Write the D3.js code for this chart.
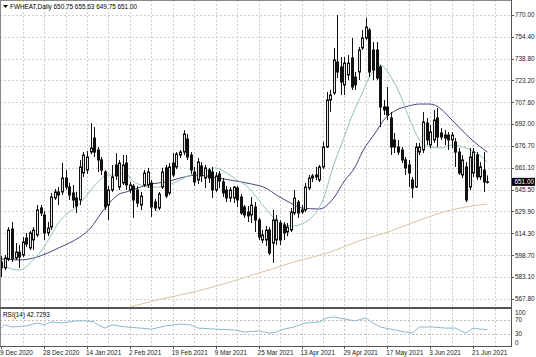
<!DOCTYPE html>
<html><head><meta charset="utf-8">
<script src="https://cdn.jsdelivr.net/npm/d3@7/dist/d3.min.js"></script>
<style>
html,body{margin:0;padding:0;background:#fff;}
svg{display:block;}
text{font-family:"Liberation Sans Narrow","Liberation Sans",Arial,sans-serif;white-space:pre;}
</style></head><body>
<svg id="c" width="536" height="357"></svg>
<script>
// ---------- DATA ----------
const symbol = "FWHEAT,Daily";
const headerValues = ["650.75", "655.63", "649.75", "651.00"];
const dates = [
"2020-12-09","2020-12-10","2020-12-11","2020-12-14","2020-12-15","2020-12-16","2020-12-17","2020-12-18","2020-12-21","2020-12-22","2020-12-23","2020-12-24","2020-12-28","2020-12-29","2020-12-30","2020-12-31",
"2021-01-04","2021-01-05","2021-01-06","2021-01-07","2021-01-08","2021-01-11","2021-01-12","2021-01-13","2021-01-14","2021-01-15","2021-01-19","2021-01-20","2021-01-21","2021-01-22","2021-01-25","2021-01-26","2021-01-27","2021-01-28","2021-01-29",
"2021-02-01","2021-02-02","2021-02-03","2021-02-04","2021-02-05","2021-02-08","2021-02-09","2021-02-10","2021-02-11","2021-02-12","2021-02-16","2021-02-17","2021-02-18","2021-02-19","2021-02-22","2021-02-23","2021-02-24","2021-02-25","2021-02-26",
"2021-03-01","2021-03-02","2021-03-03","2021-03-04","2021-03-05","2021-03-08","2021-03-09","2021-03-10","2021-03-11","2021-03-12","2021-03-15","2021-03-16","2021-03-17","2021-03-18","2021-03-19","2021-03-22","2021-03-23","2021-03-24","2021-03-25","2021-03-26","2021-03-29","2021-03-30","2021-03-31",
"2021-04-01","2021-04-05","2021-04-06","2021-04-07","2021-04-08","2021-04-09","2021-04-12","2021-04-13","2021-04-14","2021-04-15","2021-04-16","2021-04-19","2021-04-20","2021-04-21","2021-04-22","2021-04-23","2021-04-26","2021-04-27","2021-04-28","2021-04-29","2021-04-30",
"2021-05-03","2021-05-04","2021-05-05","2021-05-06","2021-05-07","2021-05-10","2021-05-11","2021-05-12","2021-05-13","2021-05-14","2021-05-17","2021-05-18","2021-05-19","2021-05-20","2021-05-21","2021-05-24","2021-05-25","2021-05-26","2021-05-27","2021-05-28",
"2021-06-01","2021-06-02","2021-06-03","2021-06-04","2021-06-07","2021-06-08","2021-06-09","2021-06-10","2021-06-11","2021-06-14","2021-06-15","2021-06-16","2021-06-17","2021-06-18","2021-06-21","2021-06-22","2021-06-23","2021-06-24","2021-06-25"
];
const openP = [593.9,589.7,596.1,617.4,596.8,601.0,598.9,611.0,603.9,609.6,613.2,632.4,627.4,614.6,618.8,639.5,643.8,643.8,653.7,647.3,643.1,639.5,638.1,657.3,659.4,672.2,682.2,673.7,666.6,658.0,634.5,645.2,663.0,647.3,650.2,664.4,645.2,648.0,645.2,634.5,648.8,648.8,650.2,636.6,632.4,647.3,660.9,643.1,664.4,661.6,670.1,672.2,681.5,670.1,658.0,652.3,662.3,653.7,659.4,658.0,645.2,656.6,650.9,645.2,639.5,639.5,646.6,640.2,633.1,629.5,627.4,633.1,623.8,609.6,609.6,616.7,607.4,609.6,621.7,620.3,615.3,616.7,628.8,636.6,631.0,631.0,646.6,653.7,655.9,652.3,661.6,675.8,709.3,714.3,736.3,732.8,720.0,727.1,739.2,725.6,729.2,746.3,753.4,759.1,744.9,744.9,732.8,704.3,704.3,696.5,680.8,675.8,673.7,666.6,663.0,652.3,647.3,672.2,673.7,692.9,677.2,680.8,696.5,685.8,684.3,684.3,680.8,679.4,672.2,655.9,661.6,647.3,657.3,670.1,654.5,659.4,650.75];
const highP = [598.2,598.9,618.8,622.4,607.4,606.0,611.7,614.6,616.0,618.8,634.5,634.5,630.2,622.4,643.1,645.9,647.3,664.4,659.4,650.2,648.8,643.8,666.6,672.2,673.0,692.9,690.0,675.8,668.7,659.4,648.0,663.0,671.5,666.6,670.1,670.1,650.9,649.5,648.0,643.8,659.4,660.9,652.3,638.8,643.8,660.9,663.0,664.4,671.5,672.2,673.7,687.9,685.1,672.2,661.6,668.0,665.1,663.0,660.9,661.6,658.0,658.7,653.7,648.0,647.3,648.0,648.0,642.3,634.5,633.8,640.2,636.6,625.3,616.7,619.6,618.8,631.0,627.4,623.8,622.4,621.7,632.4,645.2,638.1,634.5,650.2,655.9,656.6,661.6,663.0,679.4,715.0,716.4,746.3,769.8,739.9,739.9,741.3,753.4,729.2,747.0,759.1,767.7,760.5,750.6,750.6,734.2,709.3,718.5,700.7,685.8,680.8,675.8,668.7,666.6,654.5,678.7,678.7,700.7,696.5,691.5,702.2,703.6,689.3,687.9,686.5,686.5,682.2,675.1,670.1,665.1,675.1,675.1,672.2,665.1,672.2,655.63];
const lowP = [583.2,588.2,594.6,593.9,595.4,589.7,597.5,604.6,602.5,602.5,611.7,626.7,609.6,612.4,616.7,638.1,634.5,641.6,645.2,638.1,632.4,628.8,634.5,654.5,656.6,670.8,668.7,658.0,655.9,631.0,623.8,643.8,652.3,645.2,648.8,645.2,643.1,625.3,633.1,631.0,647.3,646.6,626.0,630.2,631.0,645.9,639.5,641.6,654.5,660.1,668.0,670.1,666.6,656.6,648.0,649.5,650.9,646.6,650.2,639.5,643.8,646.6,640.2,636.6,636.6,635.9,633.1,627.4,625.3,622.4,621.7,615.3,609.6,607.4,605.3,598.9,593.3,606.0,606.0,609.6,612.4,615.3,627.4,625.3,628.1,629.5,645.2,650.9,652.3,650.9,660.1,675.1,700.7,712.8,724.9,712.8,712.8,723.5,716.4,716.4,723.5,744.9,752.0,725.6,723.5,723.5,690.0,698.6,695.0,670.1,671.5,670.1,664.4,655.9,647.3,639.5,646.6,670.1,671.5,677.2,675.1,678.7,675.8,680.8,677.2,673.7,675.1,661.6,655.9,653.7,636.6,645.2,654.5,652.3,652.3,643.8,649.75];
const closeP = [589.7,596.8,616.7,596.1,601.0,597.5,608.2,606.7,614.6,616.7,631.0,628.8,614.6,618.1,640.2,643.8,641.6,653.7,647.3,641.6,638.1,633.8,661.6,670.1,668.7,675.1,672.2,666.6,659.4,633.1,645.2,654.5,655.2,664.4,663.0,648.8,648.8,638.1,635.9,640.9,657.3,658.0,633.1,632.4,642.3,658.0,640.9,661.6,655.9,670.8,672.2,685.1,668.7,659.4,650.9,665.1,655.2,660.9,653.7,645.2,655.2,651.6,643.1,639.5,645.2,647.3,638.1,628.8,627.4,626.7,634.5,623.8,611.7,613.2,616.7,600.3,623.8,623.8,609.6,614.6,618.8,629.5,639.5,628.8,629.5,647.3,653.7,655.2,654.5,661.6,675.8,709.3,712.8,737.8,729.2,722.1,735.6,735.6,718.5,720.0,744.9,753.4,761.2,729.2,730.6,724.9,704.3,702.2,698.6,675.8,675.8,672.2,666.6,660.9,657.3,646.6,675.8,675.8,693.6,680.8,686.5,695.0,682.9,682.9,682.2,680.8,684.3,672.2,657.3,666.6,638.1,668.7,672.2,654.5,661.6,650.9,651.00];

// moving averages: [date, value]
const maFast = [["2020-12-09",591.8],["2020-12-16",588.2],["2020-12-22",595.4],["2020-12-28",604.6],["2020-12-30",613.2],["2021-01-04",621.7],["2021-01-06",627.4],["2021-01-11",633.1],["2021-01-14",641.6],["2021-01-20",650.9],["2021-01-25",655.9],["2021-01-27",655.9],["2021-02-01",657.3],["2021-02-02",653.7],["2021-02-05",648.8],["2021-02-10",647.3],["2021-02-12",647.3],["2021-02-18",648.8],["2021-02-23",652.3],["2021-02-26",655.9],["2021-03-03",657.3],["2021-03-05",659.4],["2021-03-09",660.9],["2021-03-12",657.3],["2021-03-17",652.3],["2021-03-22",647.3],["2021-03-25",638.1],["2021-03-30",628.8],["2021-04-05",621.7],["2021-04-09",619.6],["2021-04-13",621.0],["2021-04-16",626.0],["2021-04-21",638.1],["2021-04-26",663.0],["2021-04-28",676.5],["2021-05-03",697.2],["2021-05-06",714.3],["2021-05-10",725.6],["2021-05-12",732.1],["2021-05-13",734.2],["2021-05-18",725.6],["2021-05-20",716.4],["2021-05-25",697.2],["2021-05-28",680.8],["2021-06-03",675.8],["2021-06-08",675.1],["2021-06-11",677.2],["2021-06-17",675.1],["2021-06-22",671.5],["2021-06-25",665.1]];
const maSlow = [["2020-12-09",596.1],["2020-12-16",595.4],["2020-12-22",596.8],["2020-12-29",600.3],["2021-01-04",603.9],["2021-01-07",607.4],["2021-01-12",611.7],["2021-01-15",618.1],["2021-01-21",628.8],["2021-01-25",635.2],["2021-01-28",642.3],["2021-02-01",643.8],["2021-02-05",647.3],["2021-02-10",649.5],["2021-02-17",650.9],["2021-02-23",653.7],["2021-03-02",655.9],["2021-03-08",654.5],["2021-03-15",652.3],["2021-03-23",649.5],["2021-03-29",646.6],["2021-04-01",641.6],["2021-04-08",635.9],["2021-04-13",632.4],["2021-04-20",631.7],["2021-04-26",639.5],["2021-04-29",651.6],["2021-05-04",661.6],["2021-05-06",672.2],["2021-05-12",687.2],["2021-05-14",695.0],["2021-05-19",701.4],["2021-05-25",705.0],["2021-05-28",706.4],["2021-06-03",706.4],["2021-06-08",702.9],["2021-06-10",697.9],["2021-06-15",690.0],["2021-06-21",680.1],["2021-06-25",672.2]];
const ma200 = [["2021-02-02",561.9],["2021-02-12",567.1],["2021-03-02",573.3],["2021-03-15",579.7],["2021-03-26",586.8],["2021-04-09",594.0],["2021-04-23",601.0],["2021-05-05",608.9],["2021-05-18",616.0],["2021-05-28",623.8],["2021-06-11",631.0],["2021-06-25",635.2]];
const rsiValues = [["2020-12-09",47],["2020-12-10",56],["2020-12-14",50],["2020-12-18",53],["2020-12-23",61],["2020-12-28",56],["2020-12-30",64],["2021-01-05",61],["2021-01-11",67],["2021-01-14",67],["2021-01-19",64],["2021-01-20",56],["2021-01-22",47],["2021-01-26",56],["2021-02-01",50],["2021-02-05",47],["2021-02-10",44],["2021-02-17",53],["2021-02-23",58],["2021-02-26",56],["2021-03-02",47],["2021-03-09",44],["2021-03-16",42],["2021-03-19",36],["2021-03-25",39],["2021-03-30",33],["2021-04-01",36],["2021-04-06",44],["2021-04-09",50],["2021-04-14",61],["2021-04-20",64],["2021-04-22",75],["2021-04-26",78],["2021-04-29",72],["2021-05-04",67],["2021-05-07",75],["2021-05-11",61],["2021-05-13",50],["2021-05-18",44],["2021-05-24",36],["2021-05-26",33],["2021-05-28",50],["2021-06-02",50],["2021-06-04",50],["2021-06-09",47],["2021-06-14",47],["2021-06-17",33],["2021-06-21",47],["2021-06-23",44],["2021-06-25",42.7293]];
const rsiLabel = "RSI(14) 42.7293";
const priceTicks = [770.00, 754.40, 738.80, 723.20, 707.60, 692.00, 676.70, 661.10, 645.50, 629.90, 614.30, 598.70, 583.10, 567.80];
const rsiTicks = [100, 70, 30, 0];
const rsiLevels = [70, 30];
const dateTicks = [["2020-12-09","9 Dec 2020"],["2020-12-28","28 Dec 2020"],["2021-01-14","14 Jan 2021"],["2021-02-02","2 Feb 2021"],["2021-02-19","19 Feb 2021"],["2021-03-09","9 Mar 2021"],["2021-03-25","25 Mar 2021"],["2021-04-13","13 Apr 2021"],["2021-04-29","29 Apr 2021"],["2021-05-17","17 May 2021"],["2021-06-03","3 Jun 2021"],["2021-06-21","21 Jun 2021"]];
const lastPrice = 651.00;

// ---------- LAYOUT ----------
const svg = d3.select("#c");
const PR = 511, MT = 0, MB = 307, RT = 309, RB = 346;
const step = 3.575;
const idx = new Map(dates.map((d, i) => [d, i]));
const xi = d3.scaleLinear().domain([0, dates.length - 1]).range([1.2, 1.2 + step * (dates.length - 1)]);
const xd = d => xi(idx.get(d));
const y = d3.scaleLinear().domain([561.9, 780.47]).range([MB, MT]);
const yr = d3.scaleLinear().domain([0, 100]).range([RB - 1, RT]);
const FS = 6.4;

svg.append("rect").attr("width", 536).attr("height", 357).attr("fill", "#fff");

const defs = svg.append("defs");
defs.append("clipPath").attr("id", "cm").append("rect").attr("x", 0).attr("y", MT).attr("width", PR).attr("height", MB - MT);
defs.append("clipPath").attr("id", "cr").append("rect").attr("x", 0).attr("y", RT).attr("width", PR).attr("height", RB - RT);

// grid
const gridC = "#cfcfcf";
const g = svg.append("g");
const vIdx = d3.range(6, 144, 6).filter(i => xi(i) < PR - 2);
g.selectAll("line.vg").data(vIdx).join("line")
  .attr("x1", i => Math.round(xi(i)) + 0.5).attr("x2", i => Math.round(xi(i)) + 0.5)
  .attr("y1", MT).attr("y2", MB).attr("stroke", gridC).attr("stroke-dasharray", "2,2");
g.selectAll("line.vr").data(vIdx).join("line")
  .attr("x1", i => Math.round(xi(i)) + 0.5).attr("x2", i => Math.round(xi(i)) + 0.5)
  .attr("y1", RT).attr("y2", RB).attr("stroke", gridC).attr("stroke-dasharray", "2,2");
g.selectAll("line.hg").data(priceTicks).join("line")
  .attr("x1", 0).attr("x2", PR)
  .attr("y1", d => Math.round(y(d)) + 0.5).attr("y2", d => Math.round(y(d)) + 0.5)
  .attr("stroke", gridC).attr("stroke-dasharray", "2,2");
g.selectAll("line.rl").data(rsiLevels).join("line")
  .attr("x1", 0).attr("x2", PR)
  .attr("y1", d => Math.round(yr(d)) + 0.5).attr("y2", d => Math.round(yr(d)) + 0.5)
  .attr("stroke", "#bdbdbd").attr("stroke-dasharray", "2,2");

// moving averages
const main = svg.append("g").attr("clip-path", "url(#cm)");
const lineGen = d3.line().x(d => xd(d[0])).y(d => y(d[1])).curve(d3.curveMonotoneX);
main.append("path").datum(ma200).attr("d", lineGen).attr("fill", "none").attr("stroke", "#d8c5a2").attr("stroke-width", 1);
main.append("path").datum(maSlow).attr("d", lineGen).attr("fill", "none").attr("stroke", "#45457a").attr("stroke-width", 1);
main.append("path").datum(maFast).attr("d", lineGen).attr("fill", "none").attr("stroke", "#92c3b8").attr("stroke-width", 1);

// candles
const candles = dates.map((d, i) => ({d, o: openP[i], h: highP[i], l: lowP[i], c: closeP[i]}));
const cg = main.append("g");
cg.selectAll("line.w").data(candles).join("line")
  .attr("x1", d => Math.round(xd(d.d)) + 0.5).attr("x2", d => Math.round(xd(d.d)) + 0.5)
  .attr("y1", d => y(d.h)).attr("y2", d => y(d.l))
  .attr("stroke", "#111").attr("stroke-width", 1);
cg.selectAll("rect.b").data(candles).join("rect")
  .attr("x", d => Math.round(xd(d.d)) - 0.5)
  .attr("width", 2)
  .attr("y", d => y(Math.max(d.o, d.c)))
  .attr("height", d => Math.max(0.6, Math.abs(y(d.o) - y(d.c))))
  .attr("fill", d => d.c >= d.o ? "#e6e6e6" : "#111")
  .attr("stroke", "#111").attr("stroke-width", 1);

// RSI
const rsiG = svg.append("g").attr("clip-path", "url(#cr)");
rsiG.append("path").datum(rsiValues)
  .attr("d", d3.line().x(d => xd(d[0])).y(d => yr(d[1])))
  .attr("fill", "none").attr("stroke", "#8bb9d0").attr("stroke-width", 1);

// frames
const frameC = "#8a8a8a";
svg.append("rect").attr("x", 0.5).attr("y", 0.5).attr("width", PR).attr("height", RB).attr("fill", "none").attr("stroke", frameC);
svg.append("rect").attr("x", 0).attr("y", MB).attr("width", PR + 1).attr("height", RT - MB).attr("fill", "#555");
svg.append("line").attr("x1", PR + 0.5).attr("x2", PR + 0.5).attr("y1", 0).attr("y2", RB + 1).attr("stroke", "#555");
svg.append("line").attr("x1", 0).attr("x2", PR + 1).attr("y1", RB + 0.5).attr("y2", RB + 0.5).attr("stroke", "#555");

// price axis
const ax = svg.append("g");
ax.selectAll("line.t").data(priceTicks).join("line")
  .attr("x1", PR).attr("x2", PR + 3)
  .attr("y1", d => Math.round(y(d)) + 0.5).attr("y2", d => Math.round(y(d)) + 0.5).attr("stroke", "#555");
ax.selectAll("text.p").data(priceTicks).join("text")
  .attr("x", PR + 4).attr("y", d => y(d) + 2.2)
  .attr("font-size", FS).attr("fill", "#222")
  .text(d => d3.format(".2f")(d));

// last price box
ax.append("rect").attr("x", PR + 1).attr("y", y(lastPrice) - 4).attr("width", 23).attr("height", 8).attr("fill", "#000");
ax.append("text").attr("x", PR + 3.5).attr("y", y(lastPrice) + 2.2).attr("font-size", FS).attr("fill", "#fff").text(d3.format(".2f")(lastPrice));

// RSI axis
ax.selectAll("text.r").data(rsiTicks).join("text")
  .attr("x", PR + 4).attr("y", d => Math.min(RB - 3, Math.max(RT + 4, yr(d))) + 2.2)
  .attr("font-size", FS).attr("fill", "#222").text(d => d);

// date axis
ax.selectAll("line.dt").data(dateTicks).join("line")
  .attr("x1", d => Math.round(xd(d[0])) + 0.5).attr("x2", d => Math.round(xd(d[0])) + 0.5)
  .attr("y1", RB).attr("y2", RB + 3).attr("stroke", "#555");
ax.selectAll("text.d").data(dateTicks).join("text")
  .attr("x", d => xd(d[0]) - 1).attr("y", 354.5)
  .attr("font-size", FS).attr("fill", "#222").text(d => d[1]);

// header and labels
svg.append("path").attr("d", "M3,5 L8,5 L5.5,8 Z").attr("fill", "#000");
svg.append("text").attr("x", 10).attr("y", 8.5).attr("font-size", FS).attr("fill", "#000")
  .text(symbol + " " + headerValues.join(" "));
svg.append("text").attr("x", 3).attr("y", RT + 7.5).attr("font-size", FS).attr("fill", "#000").text(rsiLabel);
</script>
</body></html>
